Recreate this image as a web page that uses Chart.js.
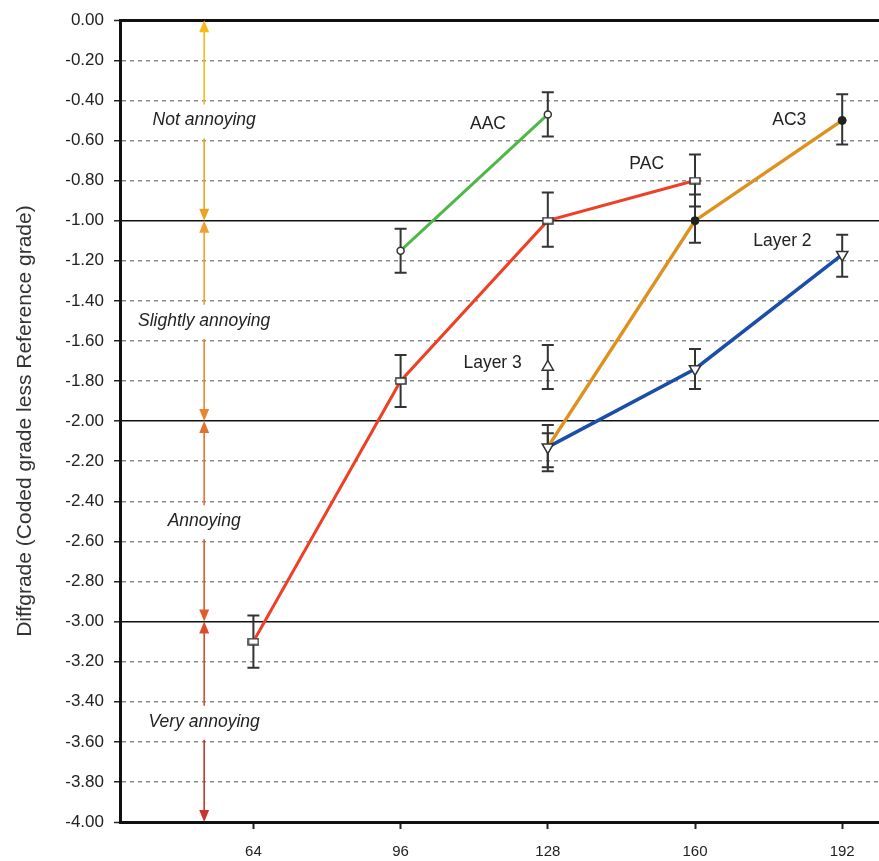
<!DOCTYPE html>
<html><head><meta charset="utf-8">
<script src="https://cdn.jsdelivr.net/npm/chart.js@4/dist/chart.umd.min.js"></script>
<style>html,body{margin:0;padding:0;background:#fff;}canvas{display:block;}</style>
</head><body>
<canvas id="c" width="879" height="861"></canvas>
<script>
// ---- data ----
const xTicks = [64, 96, 128, 160, 192];

const pacX = [64, 96, 128, 160];
const pacY = [-3.10, -1.80, -1.00, -0.80];
const pacLow = [-3.23, -1.93, -1.13, -0.93];
const pacHigh = [-2.97, -1.67, -0.86, -0.67];

const aacX = [96, 128];
const aacY = [-1.15, -0.47];
const aacLow = [-1.26, -0.58];
const aacHigh = [-1.04, -0.36];

const ac3X = [128, 160, 192];
const ac3Y = [-2.13, -1.00, -0.50];
const ac3Low = [-2.25, -1.11, -0.62];
const ac3High = [-2.02, -0.87, -0.37];

const layer2X = [128, 160, 192];
const layer2Y = [-2.13, -1.74, -1.17];
const layer2Low = [-2.23, -1.84, -1.28];
const layer2High = [-2.06, -1.64, -1.07];

const layer3X = [128];
const layer3Y = [-1.73];
const layer3Low = [-1.84];
const layer3High = [-1.62];

const seriesNames = ['PAC', 'AAC', 'AC3', 'Layer 2', 'Layer 3'];
const seriesLabelX = [149.5, 115, 180.5, 179, 116];
const seriesLabelY = [-0.72, -0.52, -0.50, -1.10, -1.71];

const bandLabels = ['Not annoying', 'Slightly annoying', 'Annoying', 'Very annoying'];
const bandTop = [0, -1, -2, -3];
const bandBottom = [-1, -2, -3, -4];
const bandArrowX = 53.3;

const yAxisTitle = 'Diffgrade (Coded grade less Reference grade)';

// ---- helpers ----
const FONT = '"Liberation Sans", Arial, sans-serif';
function pts(xs, ys) { return xs.map((x, i) => ({x: x, y: ys[i]})); }

function rectMarker() {
  const c = document.createElement('canvas');
  c.width = 12; c.height = 8;
  const g = c.getContext('2d');
  g.fillStyle = '#fff'; g.fillRect(1, 1, 10, 6);
  g.strokeStyle = '#333'; g.lineWidth = 1.5; g.strokeRect(1, 1, 10, 6);
  return c;
}

const errorSets = [
  {x: pacX, lo: pacLow, hi: pacHigh},
  {x: aacX, lo: aacLow, hi: aacHigh},
  {x: ac3X, lo: ac3Low, hi: ac3High},
  {x: layer2X, lo: layer2Low, hi: layer2High},
  {x: layer3X, lo: layer3Low, hi: layer3High}
];

const arrowUpColors = ['#f6bb1b', '#f0a032', '#e2732e', '#da4c2b'];
const arrowDownColors = ['#eda321', '#e98631', '#dc5d2d', '#c9352a'];

const overlay = {
  id: 'overlay',
  beforeDatasetsDraw(chart) {
    const ctx = chart.ctx, xs = chart.scales.x, ys = chart.scales.y;
    ctx.save();
    ctx.strokeStyle = '#333';
    ctx.lineWidth = 2;
    errorSets.forEach(s => {
      s.x.forEach((xv, i) => {
        const px = xs.getPixelForValue(xv);
        const y1 = ys.getPixelForValue(s.lo[i]);
        const y2 = ys.getPixelForValue(s.hi[i]);
        ctx.beginPath();
        ctx.moveTo(px, y1); ctx.lineTo(px, y2);
        ctx.moveTo(px - 6, y1); ctx.lineTo(px + 6, y1);
        ctx.moveTo(px - 6, y2); ctx.lineTo(px + 6, y2);
        ctx.stroke();
      });
    });
    // band arrows
    const ax = xs.getPixelForValue(bandArrowX);
    function arrow(yFrom, yTo, color) {
      const p1 = ys.getPixelForValue(yFrom), p2 = ys.getPixelForValue(yTo);
      const dir = p2 > p1 ? 1 : -1;
      ctx.strokeStyle = color; ctx.fillStyle = color; ctx.lineWidth = 1.6;
      ctx.beginPath(); ctx.moveTo(ax, p1); ctx.lineTo(ax, p2 - dir * 10); ctx.stroke();
      ctx.beginPath(); ctx.moveTo(ax, p2); ctx.lineTo(ax - 5, p2 - dir * 12); ctx.lineTo(ax + 5, p2 - dir * 12); ctx.closePath(); ctx.fill();
    }
    ctx.font = 'italic 17.5px ' + FONT;
    ctx.textAlign = 'center'; ctx.textBaseline = 'middle';
    bandLabels.forEach((lab, i) => {
      const mid = (bandTop[i] + bandBottom[i]) / 2;
      arrow(mid + 0.08, bandTop[i], arrowUpColors[i]);
      arrow(mid - 0.09, bandBottom[i], arrowDownColors[i]);
      ctx.fillStyle = '#222';
      ctx.fillText(lab, ax, ys.getPixelForValue(mid));
    });
    // series labels
    ctx.font = '17.5px ' + FONT;
    ctx.fillStyle = '#222';
    seriesNames.forEach((n, i) => {
      ctx.fillText(n, xs.getPixelForValue(seriesLabelX[i]), ys.getPixelForValue(seriesLabelY[i]));
    });
    ctx.restore();
  }
};

function isMajor(v) { return Math.abs(v - Math.round(v)) < 1e-6; }

new Chart(document.getElementById('c'), {
  type: 'line',
  data: {
    datasets: [
      {label: 'Layer 2', data: pts(layer2X, layer2Y), borderColor: '#1a4ea8', borderWidth: 3.5, order: 0,
       pointStyle: 'triangle', pointRotation: 180, pointRadius: 6.5, pointBackgroundColor: '#fff', pointBorderColor: '#333', pointBorderWidth: 1.5},
      {label: 'Layer 3', data: pts(layer3X, layer3Y), showLine: false, order: 0,
       pointStyle: 'triangle', pointRadius: 6.5, pointBackgroundColor: '#fff', pointBorderColor: '#333', pointBorderWidth: 1.5},
      {label: 'PAC', data: pts(pacX, pacY), borderColor: '#ee4027', borderWidth: 3, order: 1,
       pointStyle: rectMarker(), pointRadius: 5},
      {label: 'AAC', data: pts(aacX, aacY), borderColor: '#4db848', borderWidth: 3, order: 1,
       pointStyle: 'circle', pointRadius: 3.5, pointBackgroundColor: '#fff', pointBorderColor: '#333', pointBorderWidth: 1.5},
      {label: 'AC3', data: pts(ac3X, ac3Y), borderColor: '#df911f', borderWidth: 3.5, order: 2,
       pointStyle: 'circle', pointRadius: c => c.dataIndex === 0 ? 0 : 4,
       pointBackgroundColor: '#222', pointBorderColor: '#222', pointBorderWidth: 1}
    ]
  },
  options: {
    responsive: false,
    animation: false,
    events: [],
    layout: {autoPadding: false, padding: {top: 19, right: 0, left: 0, bottom: 0}},
    plugins: {legend: {display: false}, tooltip: {enabled: false}},
    elements: {line: {tension: 0}},
    scales: {
      x: {
        type: 'linear', min: 35, max: 200,
        afterBuildTicks: s => { s.ticks = xTicks.map(v => ({value: v})); },
        afterFit: s => { s.height = 39; s.paddingRight = 0; s.paddingLeft = 0; },
        grid: {drawOnChartArea: false, drawTicks: true, tickLength: 7, tickColor: '#222', tickWidth: 2},
        border: {display: true, color: '#111', width: 3},
        ticks: {color: '#222', padding: 14, font: {family: FONT, size: 15},
                callback: v => String(v), maxRotation: 0}
      },
      y: {
        type: 'linear', min: -4, max: 0,
        afterFit: s => { s.width = 120; },
        grid: {
          drawOnChartArea: true, drawTicks: true, tickLength: 6, tickColor: '#222', tickWidth: 1.5,
          color: c => (c.tick && (isMajor(c.tick.value))) ? '#111' : '#8c8c8c',
          lineWidth: c => {
            if (!c.tick) return 1.5;
            const v = c.tick.value;
            if (Math.abs(v) < 1e-6 || Math.abs(v + 4) < 1e-6) return 3;
            return isMajor(v) ? 1.6 : 1.5;
          }
        },
        border: {display: true, color: '#111', width: 3,
          dash: c => (c.tick && !isMajor(c.tick.value)) ? [4, 4] : []},
        ticks: {stepSize: 0.2, color: '#222', padding: 10,
                font: {family: FONT, size: 17},
                callback: v => Number(v).toFixed(2)},
        title: {display: true, text: yAxisTitle, color: '#333', padding: {top: 13, bottom: 0},
                font: {family: FONT, size: 21}}
      }
    }
  },
  plugins: [overlay]
});
</script>
</body></html>
